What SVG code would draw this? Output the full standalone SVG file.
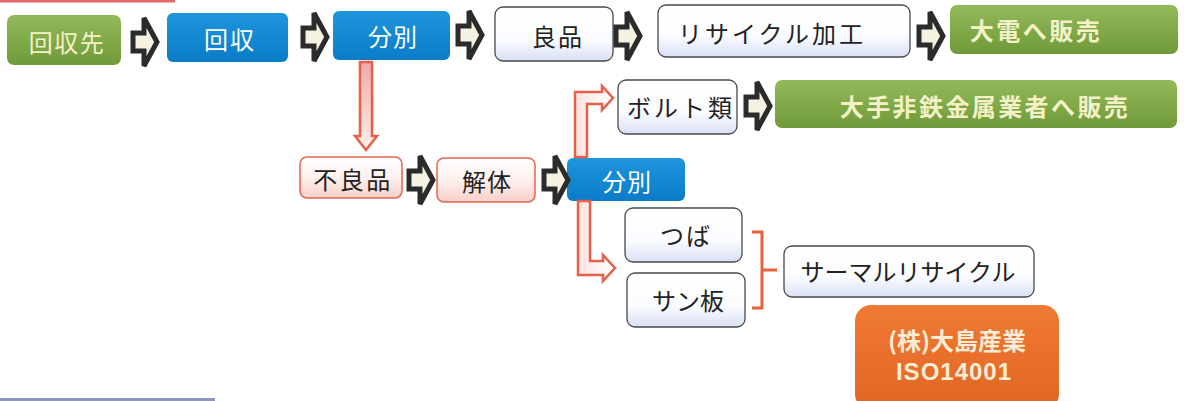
<svg xmlns="http://www.w3.org/2000/svg" width="1184" height="401" viewBox="0 0 1184 401">
<defs>
<linearGradient id="gGreen" x1="0" y1="0" x2="0" y2="1"><stop offset="0" stop-color="#93b95a"/><stop offset="1" stop-color="#6f9a3a"/></linearGradient>
<linearGradient id="gBlue" x1="0" y1="0" x2="0" y2="1"><stop offset="0" stop-color="#1e95dc"/><stop offset="1" stop-color="#0b7cc8"/></linearGradient>
<linearGradient id="gWhite" x1="0" y1="0" x2="0" y2="1"><stop offset="0" stop-color="#ffffff"/><stop offset="0.6" stop-color="#fbfcff"/><stop offset="1" stop-color="#d9e0f6"/></linearGradient>
<linearGradient id="gPink" x1="0" y1="0" x2="0" y2="1"><stop offset="0" stop-color="#ffffff"/><stop offset="0.5" stop-color="#fdf1ef"/><stop offset="1" stop-color="#f7cfc8"/></linearGradient>
<linearGradient id="gOrange" x1="0" y1="0" x2="0" y2="1"><stop offset="0" stop-color="#f07a34"/><stop offset="1" stop-color="#e06524"/></linearGradient>
<linearGradient id="gDown" x1="0" y1="0" x2="0" y2="1"><stop offset="0" stop-color="#f0a9ab"/><stop offset="1" stop-color="#fdf0ea"/></linearGradient>
<linearGradient id="gElbow" x1="0" y1="0" x2="1" y2="0"><stop offset="0" stop-color="#fbe3df"/><stop offset="1" stop-color="#ffffff"/></linearGradient>
<path id="blk" d="M0,-9 L11,-9 L11,-24 L24,0 L11,24 L11,9 L0,9 Z"/>
</defs>
<style>
text{font-family:"Noto Sans CJK JP","Noto Sans",sans-serif;font-size:24px;text-anchor:middle;dominant-baseline:central}
.green{fill:url(#gGreen)}
.blue{fill:url(#gBlue)}
.white{fill:url(#gWhite);stroke:#4a4a4a;stroke-width:1.3}
.pink{fill:url(#gPink);stroke:#e3644f;stroke-width:1.5}
.tg{fill:#f4f1c6}
.tw{fill:#ffffff}
.tk{fill:#222222}
.blk{fill:#f5f2e2;stroke:#2b2b2b;stroke-width:5;stroke-linejoin:miter}
.red{stroke:#e8604a;stroke-width:2.5;stroke-linejoin:miter}
</style>
<rect x="0" y="0" width="175" height="2.5" fill="#e26a6a"/>
<rect x="0" y="398" width="215" height="3" fill="#8d94c8"/>

<g id="n_kaishusaki"><rect class="green" x="7" y="15" width="114" height="50" rx="7"/><text class="tg" x="67" y="41" letter-spacing="1.5">回収先</text></g>
<g id="n_kaishu"><rect class="blue" x="167" y="13" width="121" height="49" rx="6"/><text class="tw" x="230" y="38" letter-spacing="2">回収</text></g>
<g id="n_bunbetsu1"><rect class="blue" x="333" y="11" width="117" height="49" rx="6"/><text class="tw" x="393" y="35" letter-spacing="1">分別</text></g>
<g id="n_ryohin"><rect class="white" x="495" y="7" width="118" height="54" rx="8"/><text class="tk" x="558" y="35" letter-spacing="2">良品</text></g>
<g id="n_recycle"><rect class="white" x="658" y="5" width="252" height="52" rx="8"/><text class="tk" x="772" y="32" letter-spacing="3">リサイクル加工</text></g>
<g id="n_daiden"><rect class="green" x="950" y="5" width="228" height="49" rx="7"/><text class="tg" x="1036" y="29" font-size="26" letter-spacing="2.5" font-weight="bold">大電へ販売</text></g>

<g id="n_bolt"><rect class="white" x="618" y="80" width="119" height="54" rx="8"/><text class="tk" x="681" y="106" letter-spacing="3">ボルト類</text></g>
<g id="n_ootehitetsu"><rect class="green" x="775" y="80" width="402" height="48" rx="7"/><text class="tg" x="985" y="105" font-weight="bold" letter-spacing="2.4">大手非鉄金属業者へ販売</text></g>

<g id="n_furyohin"><rect class="pink" x="300" y="157" width="102" height="41" rx="7"/><text class="tk" x="353" y="178" letter-spacing="2.5">不良品</text></g>
<g id="n_kaitai"><rect class="pink" x="437" y="158" width="98" height="44" rx="7"/><text class="tk" x="487" y="180" letter-spacing="1">解体</text></g>
<g id="n_bunbetsu2"><rect class="blue" x="567" y="158" width="118" height="43" rx="6"/><text class="tw" x="627" y="180" letter-spacing="1">分別</text></g>

<g id="n_tsuba"><rect class="white" x="625" y="208" width="117" height="54" rx="8"/><text class="tk" x="686" y="234" letter-spacing="2">つば</text></g>
<g id="n_sanban"><rect class="white" x="627" y="273" width="118" height="54" rx="8"/><text class="tk" x="688" y="299">サン板</text></g>
<g id="n_thermal"><rect class="white" x="784" y="246" width="250" height="51" rx="8"/><text class="tk" x="908" y="270" font-size="23">サーマルリサイクル</text></g>

<g id="n_oshima"><rect fill="url(#gOrange)" x="855" y="305" width="204" height="105" rx="16"/>
<text fill="#fbecd6" x="957" y="339" font-size="26" font-weight="bold">(株)大島産業</text>
<text fill="#fbecd6" x="954" y="371" font-size="28" font-weight="bold" letter-spacing="1" style="font-family:'Liberation Sans',Arial,sans-serif">ISO14001</text></g>

<g id="connectors">
<use href="#blk" class="blk" transform="translate(133,42)"/>
<use href="#blk" class="blk" transform="translate(303,37)"/>
<use href="#blk" class="blk" transform="translate(458,35)"/>
<use href="#blk" class="blk" transform="translate(616,36)"/>
<use href="#blk" class="blk" transform="translate(919,36)"/>
<use href="#blk" class="blk" transform="translate(746,106)"/>
<use href="#blk" class="blk" transform="translate(409,180)"/>
<use href="#blk" class="blk" transform="translate(544,180)"/>
<path class="red" fill="url(#gDown)" stroke="#e07062" d="M360,62 L360,136 L355,136 L366,150 L377,136 L372,136 L372,62 Z"/>
<path class="red" fill="url(#gElbow)" d="M575,157 L575,92 L602,92 L602,86 L613,98 L602,110 L602,104 L587,104 L587,157 Z"/>
<path class="red" fill="url(#gElbow)" d="M578,201 L578,275 L603,275 L603,281 L615,268 L603,255 L603,261 L590,261 L590,201 Z"/>
<path d="M752,232 L762,232 L762,308 L752,308 M762,270 L777,270" fill="none" stroke="#e8603c" stroke-width="3"/>
</g>
</svg>
